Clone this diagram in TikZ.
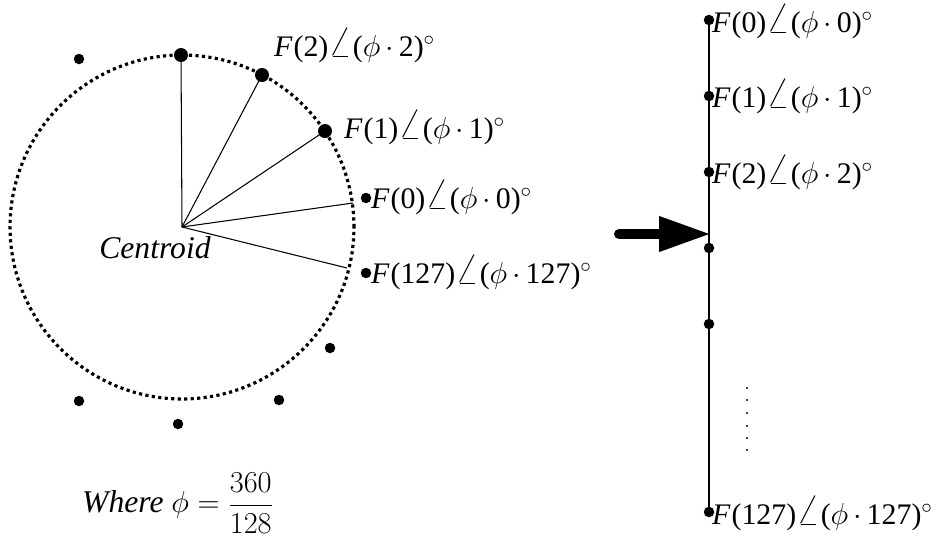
\documentclass[tikz,border=0pt]{standalone}
\usepackage{fontspec}
\setmainfont{Liberation Serif}
\usetikzlibrary{arrows.meta}
\makeatletter
\newcommand{\angl}{\mathord{\vbox{\ialign{$\m@th\textstyle##$\crcr\not\mathrel{\mkern14mu}\crcr\noalign{\nointerlineskip}\mkern2.5mu\leaders\hrule height.55pt\hfill\mkern2.5mu\crcr}}}}
\makeatother
\newcommand{\flab}[1]{\textit{F}\kern0.5pt(#1)$\angl$\kern0.5pt($\phi$\,$\cdot$\,#1)$^{\circ}$}
\begin{document}
\begin{tikzpicture}[x=0.02cm, y=-0.02cm,
            dot/.style={circle, fill=black, inner sep=0pt, minimum size=0.21cm},
            bigdot/.style={circle, fill=black, inner sep=0pt, minimum size=0.28cm},
            ring/.style={line width=1.8pt, dash pattern=on 1.8pt off 1.9pt},
            spoke/.style={line width=0.6pt},
            lab/.style={anchor=west, inner sep=0.5pt, font=\fontsize{17}{19}\selectfont},
            fatarrow/.style={line width=0.2cm, line cap=round, -{Triangle[length=1.04cm, width=0.66cm]}}
        ]
        \useasboundingbox (0,0) rectangle (942,552);
        \coordinate (ctr) at (182,227);
        \draw[ring] (ctr) circle [radius=3.44cm];

        \node[bigdot] (p90) at (181,55) {};
        \node[bigdot] (p2) at (262,75) {};
        \node[bigdot] (p1) at (325,131) {};
        \coordinate (e0) at (353,203);
        \coordinate (e127) at (347,268);
        \draw[spoke] (ctr) -- (p90.center);
        \draw[spoke] (ctr) -- (p2.center);
        \draw[spoke] (ctr) -- (p1.center);
        \draw[spoke] (ctr) -- (e0);
        \draw[spoke] (ctr) -- (e127);

        \node[dot] (q0) at (366,198) {};
        \node[dot] (q127) at (366,273) {};
        \node[dot] (d1) at (330,348) {};
        \node[dot] (d2) at (279,400) {};
        \node[dot] (d3) at (178,424) {};
        \node[dot] (d4) at (79,401) {};
        \node[dot] (d5) at (79,59) {};

        \node[lab] (l2) at (273,46) {\flab{2}};
        \node[lab] (l1) at (343,128) {\flab{1}};
        \node[lab] (l0) at (370,198) {\flab{0}};
        \node[lab] (l127) at (370,273) {\flab{127}};
        \node[font=\fontsize{18}{20}\selectfont\itshape] (cname) at (155,248) {Centroid};
        \node[font=\fontsize{18}{20}\selectfont] (phi) at (178,503) {\textit{Where} $\phi=\displaystyle\frac{360}{128}$};

        \coordinate (atail) at (619,234);
        \coordinate (ahead) at (711,234);
        \draw[fatarrow] (atail) -- (ahead);

        \node[dot] (r0) at (709,20) {};
        \node[dot] (r1) at (709,96) {};
        \node[dot] (r2) at (709,172) {};
        \node[dot] (r3) at (709,248) {};
        \node[dot] (r4) at (709,324) {};
        \node[dot] (r127) at (709,512) {};
        \draw[line width=1pt] (r0.center) -- (r127.center);

        \node[lab] (s0) at (711,22) {\flab{0}};
        \node[lab] (s1) at (711,97) {\flab{1}};
        \node[lab] (s2) at (711,173) {\flab{2}};
        \node[lab] (s127) at (711,514) {\flab{127}};
        \foreach \y in {388,400,413,426,438,450}
            \fill (747,\y) circle (0.022cm);
    \end{tikzpicture}
\end{document}
